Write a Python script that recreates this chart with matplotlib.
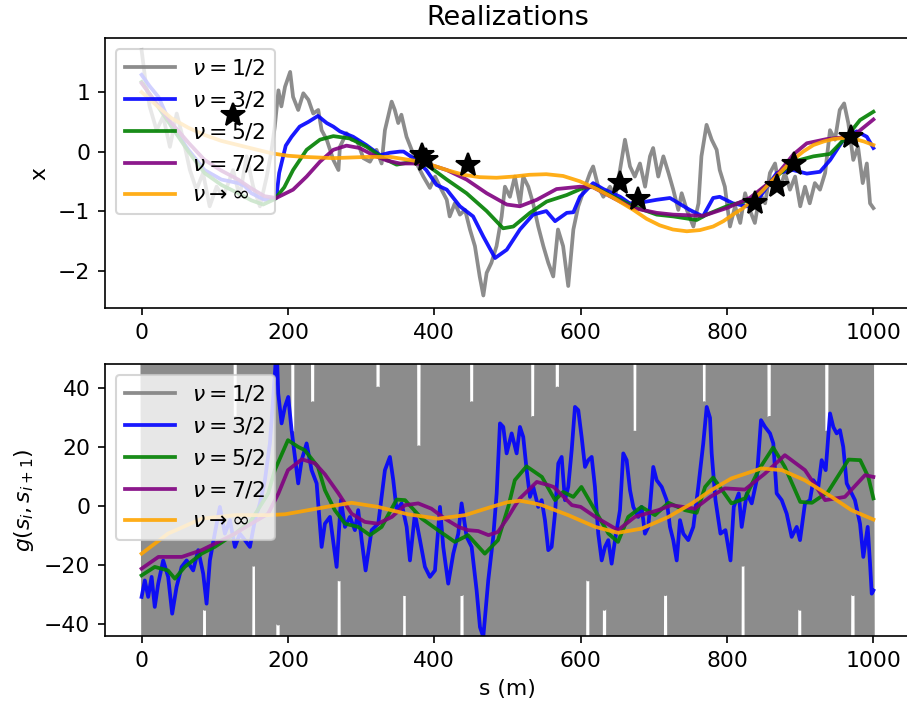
import matplotlib
matplotlib.use("Agg")
import matplotlib.pyplot as plt
import numpy as np

plt.rcParams["font.size"] = 10.5

# ── top panel: realizations x(s) ─────────────────────────────────────────────
s_gray_top = [0, 4.5, 11, 20.5, 29.5, 38.7, 48, 57, 66, 75, 84, 93, 102.5, 111.5, 125, 134,
              143.5, 152.5, 161.7, 171, 177.7, 182, 187, 191, 196, 203, 207, 214, 221, 228,
              234.5, 241.4, 246, 253, 262, 269, 271, 280, 287, 294, 303, 312, 321, 328, 332.5,
              341.7, 346, 350.7, 355, 362, 369, 375.8, 385, 394, 401, 407.7, 417, 421, 428,
              435, 442, 448.7, 455.5, 462, 467, 471.5, 478, 485, 492, 496.5, 503.3, 510, 517,
              521.5, 528.4, 535, 542, 549, 555.7, 562.5, 569, 576, 583, 590, 596.7, 606,
              612.7, 617, 624, 631, 640, 647, 653.7, 660.5, 667.4, 674, 681, 688, 694.7, 699,
              706, 713, 720, 726.5, 733.4, 738, 745, 754, 761, 765, 772, 779, 785.8, 790, 797,
              804, 811, 818, 824.7, 831, 838, 845, 852, 858.6, 865.6, 872, 879, 886, 893, 900,
              906.5, 913, 920, 927, 934, 940.7, 947.5, 954, 960, 965.7, 972.5, 979, 985.4,
              991, 995.4, 1000]
x_gray_top = [1.71, 1.26, 0.76, 0.36, 0.59, 0.08, 0.64, 0.2, -0.31, -0.64, -0.36, -0.92, -0.59,
              -0.76, -0.31, -0.76, -0.08, -0.59, -0.92, -0.42, 0.03, 0.42, 1.03, 0.76, 1.09,
              1.34, 0.92, 0.70, 0.98, 0.87, 0.64, 0.70, 0.36, 0.2, -0.14, -0.31, 0.08, 0.31,
              0.2, 0.2, -0.11, -0.17, 0.03, -0.2, 0.36, 0.84, 0.70, 0.48, 0.62, 0.25, 0.03,
              -0.2, -0.42, -0.61, -0.42, -0.59, -0.81, -1.09, -0.87, -1.06, -0.98, -1.31,
              -1.59, -2.10, -2.42, -2.04, -1.87, -1.59, -1.09, -0.59, -0.76, -0.42, -0.87,
              -0.42, -0.59, -0.87, -1.26, -1.59, -1.87, -2.10, -1.31, -1.59, -2.26, -1.31,
              -0.92, -0.59, -0.36, -0.25, -0.59, -0.76, -0.59, -0.76, -0.31, 0.2, -0.25,
              -0.42, -0.2, -0.59, -0.08, 0.06, -0.42, -0.08, -0.36, -0.64, -0.98, -0.70,
              -0.98, -1.26, -0.87, -0.08, 0.45, 0.2, 0.03, -0.31, -0.59, -1.26, -0.92, -1.20,
              -0.70, -0.98, -1.20, -0.70, -0.87, -0.36, -0.20, -0.64, -0.36, -0.64, -0.42,
              -0.92, -0.59, -0.87, -0.53, -0.64, -0.36, 0.36, 0.2, 0.70, 0.81, 0.48, -0.14,
              0.08, -0.53, -0.2, -0.87, -0.95]

s_blue_top = [0, 11, 23, 41, 64, 86, 109, 132, 141, 150, 168, 180, 184, 188, 197, 205, 216,
              228, 241, 253, 262, 271, 289, 307, 326, 339, 353, 358, 376, 389, 403, 417, 435,
              453, 467, 483, 499, 517, 535, 553, 565, 581, 590, 599, 617, 631, 654, 667, 681,
              704, 722, 749, 767, 781, 790, 808, 827, 845, 868, 890, 909, 927, 941, 959, 977,
              991, 1000]
x_blue_top = [1.29, 1.1, 0.92, 0.42, 0.03, -0.31, -0.47, -0.53, -0.58, -0.70, -0.81, -0.8,
              -0.78, -0.36, 0.1, 0.25, 0.42, 0.5, 0.60, 0.48, 0.42, 0.34, 0.25, 0.11, -0.06,
              -0.02, 0.0, 0.0, -0.15, -0.31, -0.56, -0.64, -0.92, -1.09, -1.43, -1.79, -1.65,
              -1.31, -1.06, -1.0, -1.17, -1.03, -1.02, -0.76, -0.53, -0.63, -0.76, -0.87,
              -0.86, -0.81, -0.78, -0.98, -1.09, -0.78, -0.76, -0.87, -0.92, -0.76, -0.36,
              -0.31, -0.37, -0.34, -0.14, 0.20, 0.34, 0.25, 0.06]

s_green_top = [0, 20, 41, 64, 86, 109, 132, 150, 166, 182, 195, 207, 225.5, 243.7, 262, 284.7,
               307.5, 330, 348.5, 371, 389.5, 417, 444, 471.5, 494, 508, 530.7, 553.5, 581,
               603.5, 617, 644.5, 672, 704, 726.5, 758.5, 772, 799.5, 831, 863, 890.5, 918,
               940.7, 963.5, 981.7, 1000]
x_green_top = [1.17, 0.8, 0.42, 0.0, -0.36, -0.56, -0.70, -0.82, -0.89, -0.80, -0.6, -0.31,
               0.03, 0.2, 0.26, 0.22, 0.08, -0.11, -0.22, -0.17, -0.22, -0.47, -0.70, -1.0,
               -1.29, -1.26, -1.03, -0.84, -0.73, -0.61, -0.59, -0.76, -0.92, -1.06, -1.09,
               -1.15, -1.06, -0.92, -0.81, -0.47, -0.17, -0.08, -0.04, 0.25, 0.53, 0.67]

s_purple_top = [0, 20, 41, 64, 86, 109, 132, 150, 168, 184, 207, 225.5, 243.7, 262, 280, 298,
                316.5, 335, 353, 371, 394, 417, 444, 471.5, 499, 517, 540, 567, 599, 617,
                644.5, 672, 704, 726.5, 767.5, 799.5, 831, 863, 890.5, 909, 936, 959, 977,
                1000]
x_purple_top = [1.15, 0.82, 0.48, 0.15, -0.14, -0.32, -0.47, -0.62, -0.75, -0.78, -0.64,
                -0.42, -0.17, 0.03, 0.1, 0.06, -0.06, -0.15, -0.2, -0.2, -0.22, -0.31, -0.47,
                -0.7, -0.89, -0.92, -0.81, -0.63, -0.59, -0.6, -0.78, -0.95, -1.03, -1.06,
                -1.08, -0.95, -0.78, -0.47, -0.05, 0.14, 0.21, 0.24, 0.31, 0.54]

s_orange_top = [0, 20, 41, 64, 86, 109, 132, 155, 178, 200, 223, 262, 307, 340, 371, 395, 417,
                440, 462, 485, 508, 530, 553, 576, 599, 622, 645, 672, 690, 708, 726, 745,
                763, 781, 795, 808, 822, 836, 850, 863, 877, 890, 904, 918, 932, 945, 960,
                972, 987, 1000]
x_orange_top = [1.0, 0.78, 0.56, 0.4, 0.28, 0.18, 0.11, 0.04, -0.03, -0.07, -0.09, -0.11,
                -0.09, -0.09, -0.15, -0.22, -0.31, -0.39, -0.43, -0.44, -0.42, -0.39, -0.38,
                -0.41, -0.5, -0.63, -0.78, -0.98, -1.13, -1.24, -1.31, -1.34, -1.32, -1.26,
                -1.17, -1.06, -0.95, -0.81, -0.64, -0.47, -0.3, -0.14, 0.0, 0.11, 0.17, 0.21,
                0.23, 0.22, 0.17, 0.11]

s_obs = [125, 383, 388, 446, 654, 679, 838, 868, 891.5, 969]
x_obs = [0.62, -0.05, -0.14, -0.22, -0.52, -0.80, -0.86, -0.58, -0.21, 0.25]

# ── bottom panel: g(s_i, s_{i+1}) ────────────────────────────────────────────
g_gray = [150, -120, 90, -160, 110, -75, 135, -140, 80, -105,
          170, -90, 125, -150, 60, -130, 95, -115, 145, -85,
          100, -170, 130, -60, 155, -100, 75, -145, 120, -95,
          140, -35, 85, -165, 115, -70, 160, -125, 90, -110,
          65, -150, 135, -80, 105, -140, 30, -100, 150, -120,
          80, -90, 170, -130, 95, -20, 125, -155, 110, -75,
          145, -115, 70, -170, 100, -85, 155, -40, 120, -135,
          90, -105, 160, -65, 25, -150, 75, -120, 140, -95,
          115, -160, 85, -110, 35, -140, 165, -80, 100, -125,
          150, -70, 120, -145, 90, -100, 135, -25, 60, -115,
          170, -85, 105, -130, 145, -55, 125, -150, 80, -100,
          95, -140, 155, -90, 115, -120, 40, -160, 130, -75,
          140, -110, 70, -135, 160, -95, 100, -145, 120, -30,
          85, -155, 130, -65, 110, -125, 20, -100, 90, -170,
          125, -80, 165, -140, 75, -115, 135, -60, 105, -150,
          60, -130, 145, -95, 120, -160, 85, -30, 170, -70,
          110, -145, 35, -120, 155, -85, 100, -135, 140, -105,
          150, -65, 90, -170, 125, -100, 80, -150, 115, -45,
          135, -120, 160, -80, 95, -140, 145, -110, 70, -125,
          100, -155, 30, -90, 165, -60, 130, -145, 85, -115,
          155, -75, 110, -160, 40, -130, 140, -95, 120, -150,
          90, -110, 170, -125, 75, -140, 105, -85, 150, -25,
          125, -165, 65, -105, 145, -120, 95, -35, 160, -80,
          115, -135, 150, -70, 100, -155, 130, -115, 85, -145,
          140, -90, 25, -150, 170, -100, 60, -125, 110, -160,
          95, -120, 135, -80, 155, -110, 90, -30, 125, -100,
          130, -95, 160, -120, 85, -150, 110, -70, 145, -135,
          75, -165, 120, -100, 150, -85, 35, -140, 170, -110,
          105, -125, 140, -60, 115, -155, 80, -130, 160, -90,
          145, -105, 65, -170, 125, -20, 155, -120, 100, -145,
          90, -135, 130, -75, 165, -115, 70, -150, 30, -95,
          155, -60, 100, -160, 135, -125, 85, -105, 150, -140,
          110, -90, 170, -35, 75, -145, 125, -85, 140, -130,
          95, -150, 115, -70, 160, -100, 25, -165, 80, -120,
          150, -110, 90, -135, 105, -155, 145, -75, 120, -30,
          135, -125, 70, -145, 165, -90, 110, -140, 155, -115]
s_gray_bot = np.linspace(0, 1000, len(g_gray))

s_blue_bot = [0, 4.4, 9, 13.7, 18, 22.7, 29.5, 36.3, 41.8, 47.8, 54.7, 61.5, 70.5, 77.4, 84.2,
              88.8, 93.3, 100, 107, 113.8, 120.7, 127.5, 134.3, 141.2, 148, 154.9, 161.7,
              168.5, 175.3, 182.2, 184.5, 186.7, 191.3, 195.8, 200.4, 205, 209.5, 214, 218.7,
              225.5, 232.3, 239.2, 246, 250.5, 257.4, 266.5, 272.4, 277.9, 284.7, 291.5, 296,
              300.7, 306.1, 314.3, 323.4, 332.5, 339.3, 343.9, 348.5, 355.3, 362.2, 366.7,
              373.5, 380.4, 387.2, 394, 400.9, 407.7, 412.2, 419, 425.9, 432.7, 437.3, 444.2,
              451, 457.8, 462.4, 466.9, 473.7, 480.5, 485.2, 489.7, 494.2, 498.8, 505.7,
              512.5, 517, 521.5, 526.2, 530.7, 535.2, 542, 546.7, 551.2, 555.7, 560.3, 564.9,
              569.4, 574, 578.5, 583, 587.7, 592.2, 596.7, 601.3, 605.9, 610.4, 615, 619.5,
              624, 628.7, 633.2, 637.7, 642.3, 646.9, 653.7, 658.2, 662.8, 667.4, 671.9,
              678.7, 683.3, 687.8, 692.4, 699.2, 703.8, 710.7, 717.5, 722, 726.5, 731.2,
              735.7, 740.2, 747, 753.9, 760.7, 767.5, 772.2, 776.7, 779, 784.2, 791, 797.8,
              804.7, 809.2, 816, 820, 827, 833.7, 840.5, 846.4, 851.9, 858.7, 863.2, 867.8,
              874.7, 881.5, 888.3, 895.2, 899.7, 906.5, 913.3, 917.9, 924.7, 929.3, 934.8,
              940.7, 945.2, 949.8, 954.3, 958.8, 963.5, 970.3, 974.8, 981.7, 986.2, 992.2,
              995.4, 997.7, 1000]
g_blue = [-30.9, -25.3, -30.9, -24.1, -34.3, -26.4, -18.5, -24.1, -36.6, -27.5, -20.7, -18.5,
          -21.9, -15, -23, -33.2, -18.5, -9.4, -0.3, -9.4, -4.8, -13.9, -9.4, -11.6, -13.9,
          -4.8, 0.9, 8.8, 21.3, 45.1, 55, 38.3, 28.1, 33.7, 37.1, 25.8, 16.7, 7.7, 15.6, 21.3,
          12.2, 7.7, -13.9, -6, -3.7, -20.7, 2, -7.1, -3.7, -8.2, -1.4, -11.6, -21.9, -8.2,
          -6, 12.2, 16.7, 8.8, -1.4, 0.9, -7.1, -18.5, -2.6, -11.6, -20.7, -24.1, -21.9, -0.3,
          -13.9, -26.4, -16.2, -9.4, 0.9, -10.5, -13.9, -28.7, -41.2, -44.5, -25.3, -10.5,
          4.3, 28.1, 26.9, 17.9, 24.7, 17.9, 26.9, 23.5, 12.2, 3.1, 6.5, -0.3, 2, -4.8, -15,
          -13.9, -2.6, 14.5, 16.7, 2, 6.5, 19, 33.7, 32.6, 23.5, 13.3, 15.6, 16.7, 6.5, -9.4,
          -18.5, -13.9, -11.6, -19.6, -11.6, -1.4, 17.9, 15.6, 5.4, -0.3, -3.7, -0.3, -9.4,
          -7.1, 13.3, 8.8, 6.5, 2, -7.1, -11.6, -18.5, -4.8, -9.4, -11.6, -7.1, 6.5, 21.3,
          33.7, 30, 17.9, 2, -9.4, -8.2, -18.5, -0.3, 4.3, -7.1, 4.3, 0.9, 8.8, 29.2, 26.9,
          24.7, 21.3, 4.3, 2, -2.6, -10.5, -7.1, -11.6, 0.9, 2, 8.8, 6.5, 15.6, 12.2, 31.5,
          26.9, 24.7, 25.8, 20.1, 7.7, 4.3, 2, -6, -17.3, -7.1, -19.6, -29.8, -28.7]

s_green_bot = [0, 18, 36, 45.5, 59, 82, 100, 127.5, 150, 173, 182, 200, 214, 223, 241, 250.5,
               264, 278, 296, 312, 328, 348.5, 360, 383, 405, 428, 446, 469, 487, 501, 510,
               526, 547, 565, 576, 590, 601, 619.5, 638, 651, 665, 683, 701.5, 720, 742.5,
               758.5, 770, 781, 806, 824.5, 843, 863, 879, 900, 916, 938, 966, 982, 993, 1000]
g_green = [-23.6, -20.7, -21.9, -24.7, -20.7, -16.2, -13.9, -9.4, -4.8, 4.3, 12.2, 22.4, 20.1,
           19, 13.3, 5.4, -1.4, -6, -7.1, -9.9, -7.1, 2.2, 2, -4.3, -8.2, -12.2, -9.9, -16.2,
           -11.6, -0.3, 8.8, 13.5, 9.9, 2, 4.8, 3.1, 6.5, -1.4, -9.4, -12.2, -3.7, -0.3, -3.1,
           1.1, -1.4, -2.3, 6.5, 9.7, 0.9, 2.6, 12.2, 19.9, 13.3, 1.4, 1.1, 4.8, 15.8, 15.6,
           9.9, 2.6]

s_purple_bot = [0, 23, 55, 82, 105, 127.5, 150, 173, 187, 200, 219, 237, 250.5, 269, 287, 305,
                323, 342, 360, 378, 396, 414.5, 433, 446, 460, 474, 487, 501, 510, 517, 540,
                556, 563, 588, 600, 620, 651, 674, 706, 724, 756, 777, 797, 824.5, 852, 879,
                906.5, 934, 961, 988.5, 1000]
g_purple = [-21.3, -17.3, -17.3, -15, -12.2, -9.4, -6, -2.6, 4.3, 12.2, 15.9, 14.5, 10.8, 4.3,
            -2.6, -5.4, -6, -3.7, 0.3, 0.9, -0.9, -4.3, -7.1, -8.2, -8.5, -9.9, -8.8, -3.7, 0,
            2.6, 8.2, 7.1, 6.5, 0.3, -0.3, -3.7, -8.2, -3.7, -1.4, 0.3, -0.9, 3.1, 6, 5.6,
            11.1, 17.3, 12.2, 2, 3.1, 10.5, 9.9]

s_orange_bot = [0, 36, 82, 127.5, 173, 196, 228, 257, 287, 323, 364, 405, 442, 478, 500, 517,
                535, 547, 583, 620, 651, 683, 720, 752, 777, 806, 847, 875, 906, 943, 970, 1000]
g_orange = [-16.2, -9.4, -4.3, -3.1, -3.1, -2.8, -1.4, -0.1, 1.1, -0.3, -2.8, -4.3, -3.1, -0.3,
            1.3, 1.8, 1.0, 0.3, -3.1, -7.1, -9.1, -7.7, -3.7, 0.9, 5.2, 9.4, 12.8, 12.2, 8.8,
            3.1, -1.4, -4.6]

labels = [r"$\nu = 1/2$", r"$\nu = 3/2$", r"$\nu = 5/2$", r"$\nu = 7/2$", r"$\nu \rightarrow \infty$"]
colors = ["gray", "blue", "green", "purple", "orange"]
LW = 1.8

fig = plt.figure(figsize=(907 / 150, 709 / 150), dpi=150)
ax1 = fig.add_axes([105 / 907, 1 - 308 / 709, 805 / 907, 270 / 709])
ax2 = fig.add_axes([105 / 907, 1 - 636 / 709, 805 / 907, 272 / 709])

top = [(s_gray_top, x_gray_top), (s_blue_top, x_blue_top), (s_green_top, x_green_top),
       (s_purple_top, x_purple_top), (s_orange_top, x_orange_top)]
for (s, x), c, lab in zip(top, colors, labels):
    ax1.plot(s, x, color=c, alpha=0.9, lw=LW, label=lab)
# observations sit above the legend, as in the original
ax1.plot(s_obs, x_obs, "k*", ms=12, zorder=10)
ax1.set_xlim(-50, 1050)
ax1.set_ylim(-2.63, 1.91)
ax1.set_ylabel("x")
ax1.set_title("Realizations", fontsize=13)
ax1.legend(loc="upper left", handlelength=2.3)

bot = [(s_gray_bot, g_gray), (s_blue_bot, g_blue), (s_green_bot, g_green),
       (s_purple_bot, g_purple), (s_orange_bot, g_orange)]
for (s, g), c, lab in zip(bot, colors, labels):
    ax2.plot(s, g, color=c, alpha=0.9, lw=LW, label=lab)
ax2.set_xlim(-50, 1050)
ax2.set_ylim(-44.2, 48.3)
ax2.set_ylabel(r"$g(s_i, s_{i+1})$")
ax2.set_xlabel("s (m)")
ax2.legend(loc="upper left", handlelength=2.3)

fig.savefig("out.png", dpi=150)
